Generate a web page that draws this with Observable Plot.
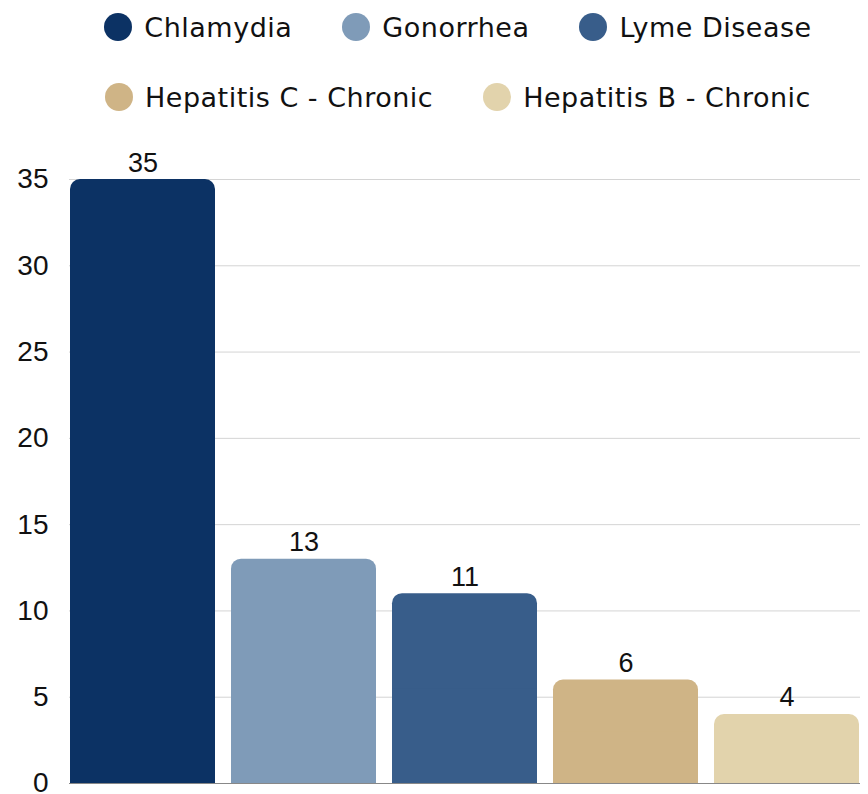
<!DOCTYPE html>
<html><head><meta charset="utf-8">
<script src="https://cdn.jsdelivr.net/npm/d3@7"></script>
<script src="https://cdn.jsdelivr.net/npm/@observablehq/plot@0.6"></script>
<style>
body{margin:0;background:#fff;width:868px;overflow:hidden}
#legend{position:relative;height:130px;width:868px;font-family:"DejaVu Sans",sans-serif;font-size:27px;letter-spacing:0.5px;color:#111}
.row{position:absolute;left:48px;right:0;height:54px;display:flex;justify-content:center;align-items:center;gap:50px}
.item{display:flex;align-items:center;gap:12px;white-space:nowrap}
.dot{width:28px;height:28px;border-radius:50%;display:inline-block;flex:none}
</style></head>
<body><div id="legend"></div><div id="chart"></div>
<script>
const categories = ["Chlamydia","Gonorrhea","Lyme Disease","Hepatitis C - Chronic","Hepatitis B - Chronic"];
const values = [35, 13, 11, 6, 4];
const colors = ["#0c3264","#7f9bb8","#385d8a","#cfb486","#e2d3ac"];
const yTicks = [0, 5, 10, 15, 20, 25, 30, 35];
const legendRows = [[0,1,2],[3,4]];

const data = categories.map((c,i)=>({category:c, value:values[i], color:colors[i]}));

const legend = document.getElementById("legend");
legendRows.forEach((r,ri)=>{
  const row = document.createElement("div");
  row.className="row"; row.style.top = (ri*70)+"px";
  r.forEach(i=>{
    const it=document.createElement("div"); it.className="item";
    const d=document.createElement("span"); d.className="dot"; d.style.background=colors[i];
    const t=document.createElement("span"); t.textContent=categories[i];
    it.appendChild(d); it.appendChild(t); row.appendChild(it);
  });
  legend.appendChild(row);
});

const chart = Plot.plot({
  width: 868, height: 664,
  marginLeft: 69, marginRight: 8, marginTop: 49, marginBottom: 11,
  style: {fontFamily: "'Liberation Sans', Arial, sans-serif", fontSize: "28px", color: "#111", background: "#fff", overflow: "visible"},
  x: {domain: categories, paddingInner: 0.1, paddingOuter: 0, axis: null},
  y: {domain: [0, 35], axis: null},
  marks: [
    Plot.gridY(yTicks, {stroke: "#d4d4d4", strokeOpacity: 1}),
    Plot.axisY(yTicks, {tickSize: 0, tickPadding: 21, fontSize: 28, fill: "#111", label: null}),
    Plot.barY(data, {x: "category", y: "value", fill: "color", rx: 10}),
    Plot.barY(data, {x: "category", y1: 0, y2: d => d.value / 2, fill: "color"}),
    Plot.ruleY([0], {stroke: "#888"}),
    Plot.text(data, {x: "category", y: "value", text: d => String(d.value), lineAnchor: "bottom", dy: -8, fontSize: 27, fill: "#111"})
  ]
});
document.getElementById("chart").appendChild(chart);
</script></body></html>
